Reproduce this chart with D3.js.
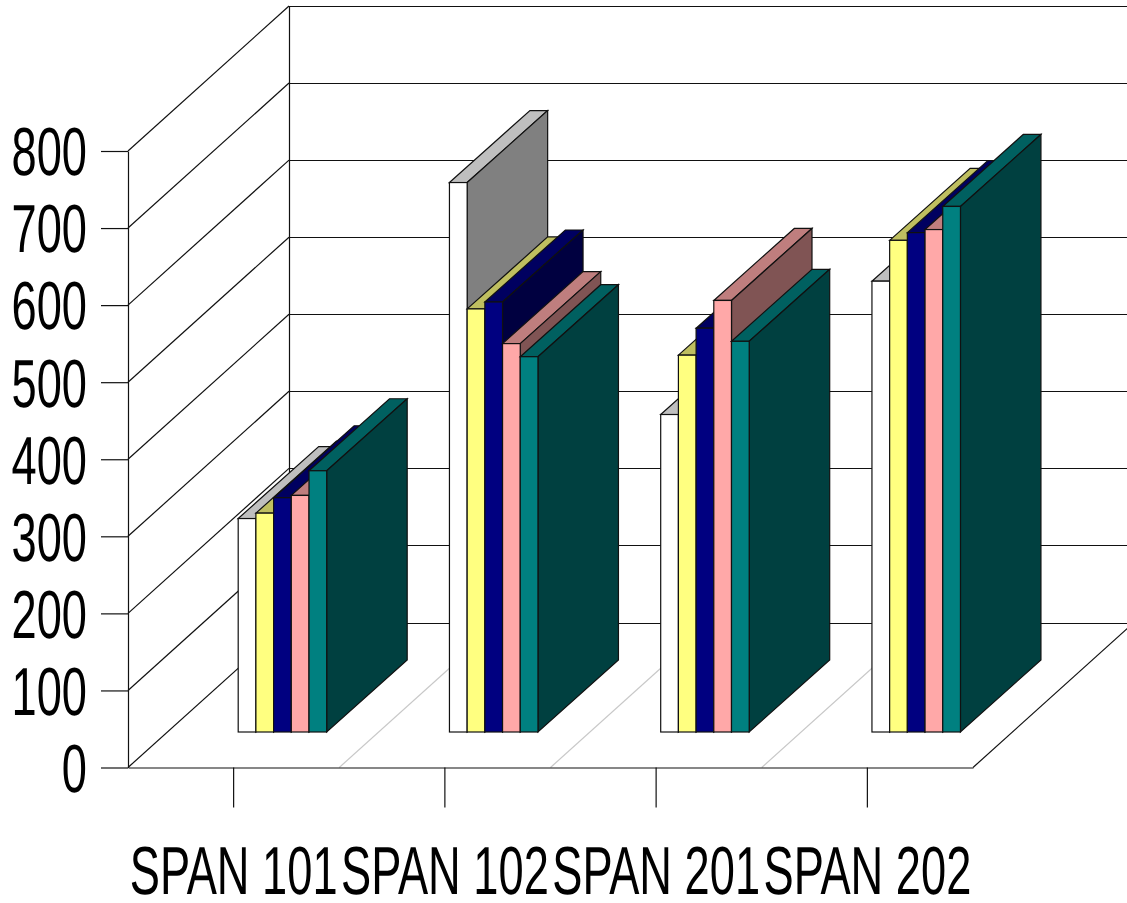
<!DOCTYPE html>
<html>
<head>
<meta charset="utf-8">
<script src="https://cdn.jsdelivr.net/npm/d3@7/dist/d3.min.js"></script>
<style>
  html, body { margin: 0; padding: 0; background: #fff; overflow: hidden; }
  svg { display: block; }
  text { font-family: "Liberation Sans", Arial, sans-serif; fill: #000; text-rendering: geometricPrecision; }
</style>
</head>
<body>
<svg id="chart" width="1127" height="903"></svg>
<script>
const categories = ["SPAN 101", "SPAN 102", "SPAN 201", "SPAN 202"];
const seriesNames = ["A", "B", "C", "D", "E"];
const seriesColors = ["#ffffff", "#ffff80", "#000080", "#ffa8a8", "#008080"];
const seriesA = [277, 713, 412, 585];
const seriesB = [284, 549, 489, 638];
const seriesC = [304, 558, 524, 648];
const seriesD = [307, 504, 560, 652];
const seriesE = [339, 487, 507, 682];
const seriesValues = [seriesA, seriesB, seriesC, seriesD, seriesE];
const valueTicks = [0, 100, 200, 300, 400, 500, 600, 700, 800];

const svg = d3.select("#chart");
const width = 1127, height = 903;

// Oblique projection: the front plane, the bars' plane and the back wall
const front = { left: 128, right: 973, base: 767.5, top: 151 };
const wall = { dx: 161, dy: -145 };
const barPlane = { dy: -35.5 };
const barDepth = { dx: 80.5, dy: -72 };
const lineColor = "#111";
const lineWidth = 1.2;
const fontSize = 68;
const narrow = 0.665; // horizontal squeeze of the condensed axis lettering

const y = d3.scaleLinear().domain([0, 800]).range([front.base, front.top]);
const x = d3.scaleBand().domain(categories).range([front.left, front.right]);
const inner = d3.scaleBand().domain(seriesNames).range([110.2, 198.7]);

const line = (x1, y1, x2, y2, stroke = lineColor, w = lineWidth) =>
  svg.append("line").attr("x1", x1).attr("y1", y1).attr("x2", x2).attr("y2", y2)
    .attr("stroke", stroke).attr("stroke-width", w);

// Back wall gridlines, side wall diagonals
valueTicks.forEach(v => {
  const yy = Math.round(y(v) + wall.dy) + 0.5;
  line(front.left + wall.dx, yy, width, yy);
  line(front.left, y(v), front.left + wall.dx, y(v) + wall.dy);
});
line(front.left + wall.dx + 0.5, y(800) + wall.dy, front.left + wall.dx + 0.5, y(0) + wall.dy);

// Floor: category separators and the right-hand edge
categories.slice(1).forEach(c => {
  line(x(c), front.base, x(c) + wall.dx, front.base + wall.dy, "#c8c8c8");
});
line(front.right, front.base, front.right + wall.dx, front.base + wall.dy);

// Bars, painted left to right so nearer faces overlap the previous side face
const shade = (color, k) => {
  const c = d3.rgb(color);
  return d3.rgb(c.r * k, c.g * k, c.b * k).formatHex();
};
const pts = a => a.map(p => p.join(",")).join(" ");

categories.forEach((cat, ci) => {
  seriesNames.forEach((name, si) => {
    const color = seriesColors[si];
    const value = seriesValues[si][ci];
    const x0 = x(cat) + inner(name);
    const x1 = x0 + inner.bandwidth();
    const yb = y(0) + barPlane.dy;
    const yt = y(value) + barPlane.dy;
    const { dx, dy } = barDepth;
    const g = svg.append("g").attr("stroke", lineColor).attr("stroke-width", lineWidth).attr("stroke-linejoin", "miter");
    g.append("polygon").attr("fill", shade(color, 0.75))
      .attr("points", pts([[x0, yt], [x0 + dx, yt + dy], [x1 + dx, yt + dy], [x1, yt]]));
    g.append("polygon").attr("fill", shade(color, 0.5))
      .attr("points", pts([[x1, yt], [x1 + dx, yt + dy], [x1 + dx, yb + dy], [x1, yb]]));
    g.append("rect").attr("fill", color)
      .attr("x", x0).attr("y", yt).attr("width", x1 - x0).attr("height", yb - yt);
  });
});

// Axes
const styleAxis = g => {
  g.selectAll("path.domain, .tick line").attr("stroke", lineColor).attr("stroke-width", lineWidth);
  g.selectAll("text")
    .attr("font-family", null)
    .style("font-size", fontSize + "px")
    .attr("transform", `scale(${narrow},1)`);
};

svg.append("g")
  .attr("transform", `translate(${front.left},0)`)
  .call(d3.axisLeft(y).tickValues(valueTicks).tickSize(27).tickPadding(14).tickSizeOuter(0).tickFormat(d3.format("d")))
  .call(styleAxis)
  .call(g => g.selectAll("text").attr("x", -41 / narrow).attr("dy", "0.35em"));

svg.append("g")
  .attr("transform", `translate(0,${front.base})`)
  .call(d3.axisBottom(x).tickSize(40).tickPadding(38).tickSizeOuter(0))
  .call(styleAxis);
</script>
</body>
</html>
